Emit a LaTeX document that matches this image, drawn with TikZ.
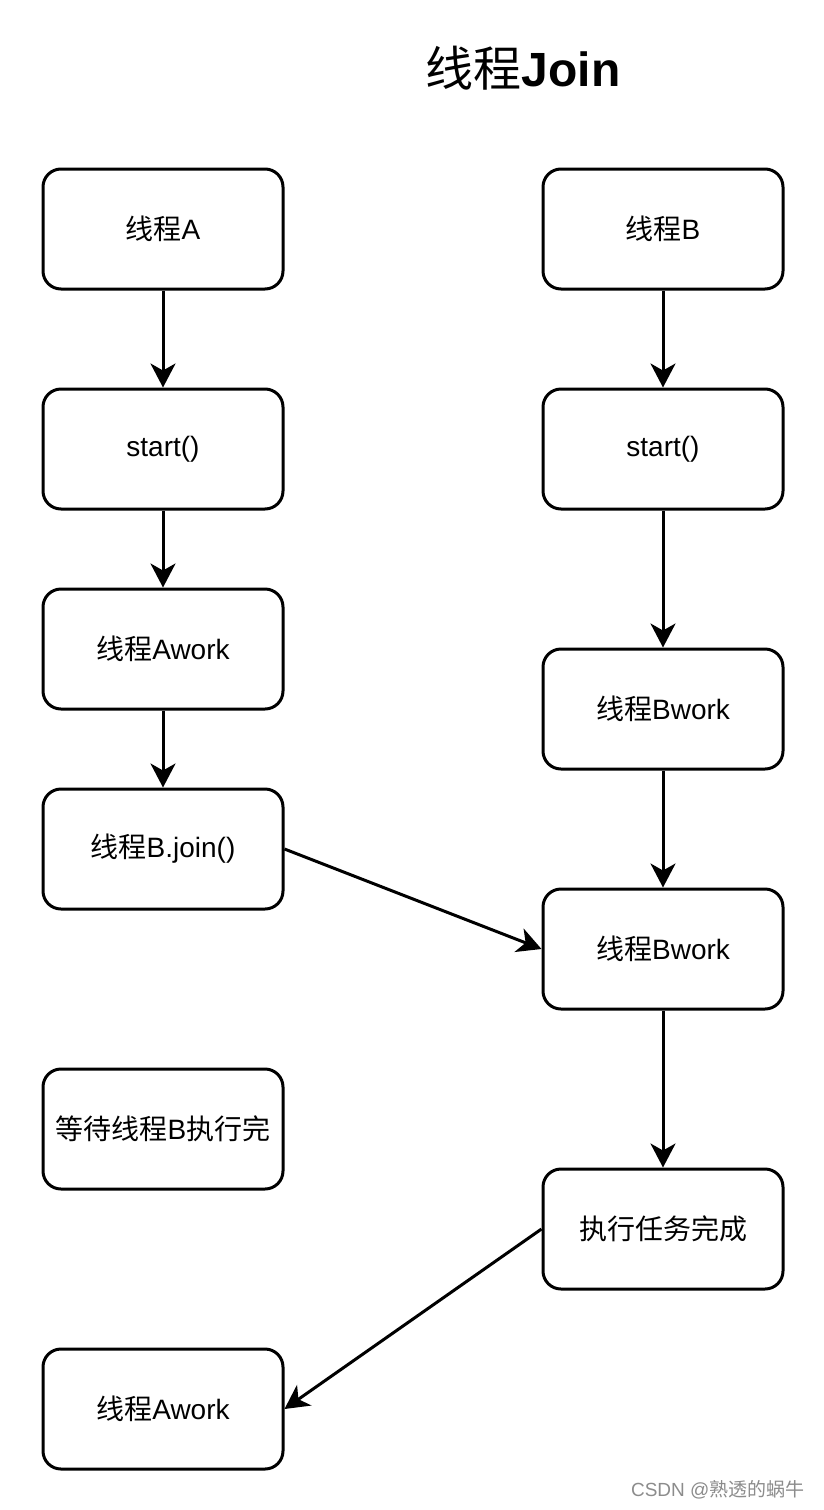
\documentclass[tikz,border=0pt]{standalone}
\usepackage{fontspec}
\setmainfont{Liberation Sans}
\newfontfamily\cjk{Noto Sans CJK SC}
\newcommand{\zh}[1]{{\cjk #1}}
\usetikzlibrary{arrows.meta}
\begin{document}
\begin{tikzpicture}[x=1pt,y=-1pt,
  box/.style={draw=black, line width=3pt, rounded corners=18pt, minimum width=240pt, minimum height=120pt, inner sep=0pt, font=\fontsize{28}{32}\selectfont, fill=white},
  conn/.style={line width=3pt, -{Stealth[length=24pt,width=25pt,inset=7pt]}}]
\useasboundingbox (0,0) rectangle (824,1510);
\fill[white] (0,0) rectangle (824,1510);
\node[font=\fontsize{48}{56}\selectfont] (title) at (523,68) {\zh{线程}\textbf{Join}};
% left column
\node[box] (a1) at (163,229) {\raisebox{-2pt}{\zh{线程}A}};
\node[box] (a2) at (163,449) {\raisebox{-2pt}{start()}};
\node[box] (a3) at (163,649) {\raisebox{-2pt}{\zh{线程}Awork}};
\node[box] (a4) at (163,849) {\raisebox{-2pt}{\zh{线程}B.join()}};
\node[box] (a5) at (163,1129) {\raisebox{-2pt}{\zh{等待线程}B\zh{执行完}}};
\node[box] (a6) at (163,1409) {\raisebox{-2pt}{\zh{线程}Awork}};
% right column
\node[box] (b1) at (663,229) {\raisebox{-2pt}{\zh{线程}B}};
\node[box] (b2) at (663,449) {\raisebox{-2pt}{start()}};
\node[box] (b3) at (663,709) {\raisebox{-2pt}{\zh{线程}Bwork}};
\node[box] (b4) at (663,949) {\raisebox{-2pt}{\zh{线程}Bwork}};
\node[box] (b5) at (663,1229) {\raisebox{-2pt}{\zh{执行任务完成}}};
% connectors
\draw[conn] (a1.south) -- (a2.north);
\draw[conn] (a2.south) -- (a3.north);
\draw[conn] (a3.south) -- (a4.north);
\draw[conn] (b1.south) -- (b2.north);
\draw[conn] (b2.south) -- (b3.north);
\draw[conn] (b3.south) -- (b4.north);
\draw[conn] (b4.south) -- (b5.north);
\draw[conn] (a4.east) -- (b4.west);
\draw[conn] (b5.west) -- (a6.east);
% watermark
\node[text=black!45, font=\fontsize{19}{22}\selectfont, anchor=east] (wm) at (808,1490) {CSDN @\zh{熟透的蜗牛}};
\end{tikzpicture}
\end{document}
